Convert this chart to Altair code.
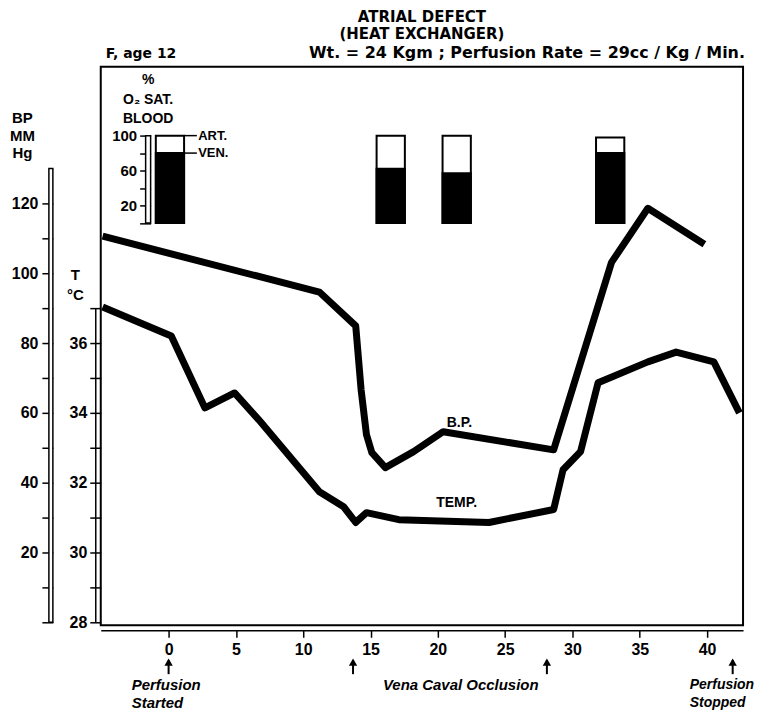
import altair as alt
import pandas as pd

# ---------------- data ----------------
bp_time = [-4.9, 11.2, 13.9, 14.3, 14.7, 15.1, 16.1, 18.2, 20.4, 28.6, 32.9, 35.6, 39.8]
bp_mmhg = [110.6, 94.6, 84.9, 66.6, 53.7, 48.6, 44.3, 48.9, 54.6, 49.4, 103.1, 118.6, 108.3]

temp_time = [-4.9, 0.2, 2.7, 4.9, 6.7, 11.2, 13.0, 13.9, 14.7, 17.1, 23.8, 28.6, 29.3,
             30.6, 31.9, 35.6, 37.7, 40.5, 42.4]
temp_c = [37.03, 36.2, 34.14, 34.57, 33.8, 31.74, 31.31, 30.86, 31.14, 30.94, 30.86, 31.23,
          32.37, 32.89, 34.86, 35.46, 35.74, 35.46, 34.0]

o2_time = [0.1, 16.5, 21.4, 32.8]
o2_art = [100, 100, 100, 98]
o2_ven = [80, 62, 57, 80]

x_ticks = [0, 5, 10, 15, 20, 25, 30, 35, 40]
bp_ticks = [0, 10, 20, 30, 40, 50, 60, 70, 80, 90, 100, 110, 120]
bp_axis_top = 130
temp_ticks = [28, 29, 30, 31, 32, 33, 34, 35, 36, 37]
o2_ticks = [0, 20, 40, 60, 80, 100]

event_time = [0, 13.7, 28.1, 41.9]

series_labels = ["B.P.", "TEMP."]

# ---------------- layout constants ----------------
W, H = 644, 560
XDOM = [-5.04, 42.67]
BPDOM = [-0.86, 159.14]
TDOM = [27.914, 43.914]
O2DOM = [-461.1, 178.9]
FONT = "Liberation Sans"
HFONT = "DejaVu Sans"
HALF = 1.05

def xs():
    return alt.Scale(domain=XDOM, nice=False, zero=False)

def bps():
    return alt.Scale(domain=BPDOM, nice=False, zero=False)

def ts():
    return alt.Scale(domain=TDOM, nice=False, zero=False)

def o2s():
    return alt.Scale(domain=O2DOM, nice=False, zero=False)

x_axis = alt.Axis(orient="bottom", values=x_ticks, format="d", offset=5, grid=False,
                  domain=True, domainColor="black", domainWidth=1.5,
                  tickColor="black", tickWidth=1.5, tickSize=7,
                  labelFont=FONT, labelFontSize=16, labelFontWeight="bold",
                  labelColor="black", labelPadding=4, title=None)

def X(field):
    return alt.X(f"{field}:Q", scale=xs(), axis=x_axis)

bp_axis = alt.Axis(orient="left", offset=48, values=bp_ticks, grid=False, domain=False,
                   labelExpr="datum.value % 20 == 0 && datum.value > 0 ? datum.label : ''",
                   tickColor="black", tickWidth=1.5, tickSize=11,
                   labelFont=FONT, labelFontSize=16, labelFontWeight="bold",
                   labelColor="black", labelPadding=4,
                   title=["BP", "MM", "Hg"], titleAngle=0, titleAlign="center",
                   titleBaseline="top", titleX=-31, titleY=44, titleFont=FONT,
                   titleFontSize=15, titleFontWeight="bold", titleLineHeight=17.5,
                   titleColor="black")

temp_axis = alt.Axis(orient="left", offset=0, values=temp_ticks, grid=False, domain=False,
                     labelExpr="datum.value % 2 == 0 ? datum.label : ''",
                     tickColor="black", tickWidth=1.5, tickSize=11,
                     labelFont=FONT, labelFontSize=16, labelFontWeight="bold",
                     labelColor="black", labelPadding=3,
                     title=["T", "°C"], titleAngle=0, titleAlign="center",
                     titleBaseline="top", titleX=-26, titleY=201, titleFont=FONT,
                     titleFontSize=15, titleFontWeight="bold", titleLineHeight=20,
                     titleColor="black")

o2_axis = alt.Axis(orient="left", offset=-50, values=o2_ticks, grid=False, domain=False,
                   labelExpr="(datum.value % 40 == 20 || datum.value == 100) ? datum.label : ''",
                   tickColor="black", tickWidth=1.5, tickSize=11,
                   labelFont=FONT, labelFontSize=15, labelFontWeight="bold",
                   labelColor="black", labelPadding=3,
                   title=["%", "O₂ SAT.", "BLOOD"], titleAngle=0, titleAlign="center",
                   titleBaseline="top", titleX=-3, titleY=6, titleFont=FONT,
                   titleFontSize=14, titleFontWeight="bold", titleLineHeight=19.5,
                   titleColor="black")

# ---------------- BP ----------------
bp_df = pd.DataFrame({"t": bp_time, "v": bp_mmhg})
bp_line = alt.Chart(bp_df).mark_line(color="black", strokeWidth=7, strokeJoin="round").encode(
    x=X("t"),
    y=alt.Y("v:Q", scale=bps(), axis=bp_axis),
)

bp_bar_df = pd.DataFrame({"lo": [0], "hi": [bp_axis_top]})
bp_axis_line = alt.Chart(bp_bar_df).mark_rect(fill="white", stroke="black", strokeWidth=1.5).encode(
    x=alt.value(-52), x2=alt.value(-48),
    y=alt.Y("lo:Q", scale=bps(), axis=None), y2="hi:Q",
)

bp_lab_df = pd.DataFrame({"t": [21.6], "v": [57.1], "label": [series_labels[0]]})
bp_label = alt.Chart(bp_lab_df).mark_text(font=FONT, fontSize=14, fontWeight="bold",
                                          color="black").encode(
    x=X("t"),
    y=alt.Y("v:Q", scale=bps(), axis=None),
    text="label:N",
)

# ---------------- header / footer annotations ----------------
head_df = pd.DataFrame({"label": ["F, age 12", "Wt. = 24 Kgm ; Perfusion Rate = 29cc / Kg / Min."],
                        "pos": ["l", "r"]})
head_l = alt.Chart(head_df).transform_filter("datum.pos == 'l'").mark_text(
    font=HFONT, fontSize=14, fontWeight="bold", color="black", align="left",
    baseline="alphabetic").encode(x=alt.value(5), y=alt.value(-9), text="label:N")
head_r = alt.Chart(head_df).transform_filter("datum.pos == 'r'").mark_text(
    font=HFONT, fontSize=16, fontWeight="bold", color="black", align="right",
    baseline="alphabetic").encode(x=alt.value(646), y=alt.value(-9), text="label:N")

ev_df = pd.DataFrame({"t": event_time})
arrow_shaft = alt.Chart(ev_df).mark_rule(color="black", strokeWidth=2).encode(
    x=X("t"), y=alt.value(H + 35), y2=alt.value(H + 49))
arrow_head = alt.Chart(ev_df).mark_point(shape="triangle-up", filled=True, size=70,
                                         color="black", opacity=1).encode(
    x=X("t"), y=alt.value(H + 37))

ann_df = pd.DataFrame({
    "t": [event_time[0], (event_time[1] + event_time[2]) / 2 + 0.8, event_time[3]],
    "label": ["Perfusion\nStarted", "Vena Caval Occlusion", "Perfusion\nStopped"],
    "al": ["l", "c", "s"],
})
ann_start = alt.Chart(ann_df).transform_filter("datum.al == 'l'").mark_text(
    font=FONT, fontSize=15, fontWeight="bold", fontStyle="italic", color="black",
    align="left", baseline="top", lineBreak="\n", lineHeight=18, dx=-37).encode(
    x=X("t"), y=alt.value(H + 53), text="label:N")
ann_mid = alt.Chart(ann_df).transform_filter("datum.al == 'c'").mark_text(
    font=FONT, fontSize=15, fontWeight="bold", fontStyle="italic", color="black",
    align="center", baseline="top").encode(
    x=X("t"), y=alt.value(H + 53), text="label:N")
ann_stop = alt.Chart(ann_df).transform_filter("datum.al == 's'").mark_text(
    font=FONT, fontSize=14, fontWeight="bold", fontStyle="italic", color="black",
    align="left", baseline="top", lineBreak="\n", lineHeight=18, dx=-43).encode(
    x=X("t"), y=alt.value(H + 53), text="label:N")

# ---------------- Temperature ----------------
t_df = pd.DataFrame({"t": temp_time, "v": temp_c})
t_line = alt.Chart(t_df).mark_line(color="black", strokeWidth=7, strokeJoin="round").encode(
    x=X("t"),
    y=alt.Y("v:Q", scale=ts(), axis=temp_axis),
)
t_bar_df = pd.DataFrame({"lo": [temp_ticks[0]], "hi": [temp_ticks[-1]]})
t_axis_line = alt.Chart(t_bar_df).mark_rule(color="black", strokeWidth=1.5).encode(
    x=alt.value(-5),
    y=alt.Y("lo:Q", scale=ts(), axis=None), y2="hi:Q",
)
t_lab_df = pd.DataFrame({"t": [21.4], "v": [31.43], "label": [series_labels[1]]})
t_label = alt.Chart(t_lab_df).mark_text(font=FONT, fontSize=14, fontWeight="bold",
                                        color="black").encode(
    x=X("t"),
    y=alt.Y("v:Q", scale=ts(), axis=None),
    text="label:N",
)

# ---------------- O2 saturation ----------------
o2_df = pd.DataFrame({"t": o2_time, "art": o2_art, "ven": o2_ven})
o2_base = alt.Chart(o2_df).transform_calculate(
    x1=f"datum.t - {HALF}", x2=f"datum.t + {HALF}", zero="0")
o2_white = o2_base.mark_rect(fill="white", stroke="black", strokeWidth=2).encode(
    x=X("x1"), x2="x2:Q",
    y=alt.Y("art:Q", scale=o2s(), axis=o2_axis), y2="zero:Q",
)
o2_black = o2_base.mark_rect(fill="black", stroke="black", strokeWidth=2).encode(
    x=X("x1"), x2="x2:Q",
    y=alt.Y("ven:Q", scale=o2s(), axis=None), y2="zero:Q",
)
o2_bar_df = pd.DataFrame({"lo": [o2_ticks[0]], "hi": [o2_ticks[-1]]})
o2_axis_line = alt.Chart(o2_bar_df).mark_rect(fill="white", stroke="black", strokeWidth=1.5).encode(
    x=alt.value(45), x2=alt.value(50),
    y=alt.Y("lo:Q", scale=o2s(), axis=None), y2="hi:Q",
)
key_df = pd.DataFrame({"t": [o2_time[0]] * 2, "level": [o2_art[0], o2_ven[0]],
                       "label": ["ART.", "VEN."]})
key_base = alt.Chart(key_df).transform_calculate(
    k1=f"datum.t + {HALF}", k2=f"datum.t + {HALF} + 0.95", k3=f"datum.t + {HALF} + 1.05")
key_rules = key_base.mark_rule(color="black", strokeWidth=1.5).encode(
    x=X("k1"), x2="k2:Q",
    y=alt.Y("level:Q", scale=o2s(), axis=None),
)
key_text = key_base.mark_text(font=FONT, fontSize=13, fontWeight="bold", color="black",
                              align="left", baseline="middle").encode(
    x=X("k3"),
    y=alt.Y("level:Q", scale=o2s(), axis=None),
    text="label:N",
)

chart = alt.layer(
    bp_line, bp_axis_line, bp_label,
    t_line, t_axis_line, t_label,
    o2_white, o2_black, o2_axis_line, key_rules, key_text,
    head_l, head_r, arrow_shaft, arrow_head, ann_start, ann_mid, ann_stop,
).resolve_scale(y="independent").properties(
    width=W, height=H,
    autosize=alt.AutoSizeParams(type="none"),
    padding={"left": 93, "top": 58, "right": 16, "bottom": 84},
    title=alt.TitleParams(text=["ATRIAL DEFECT", "(HEAT EXCHANGER)"], anchor="middle",
                          frame="group", font=HFONT, fontSize=15, fontWeight="bold",
                          color="black", lineHeight=17, offset=3),
    background="white",
).configure_view(stroke="black", strokeWidth=2)

chart.save("out.html", embed_options={"renderer": "svg", "actions": False})
